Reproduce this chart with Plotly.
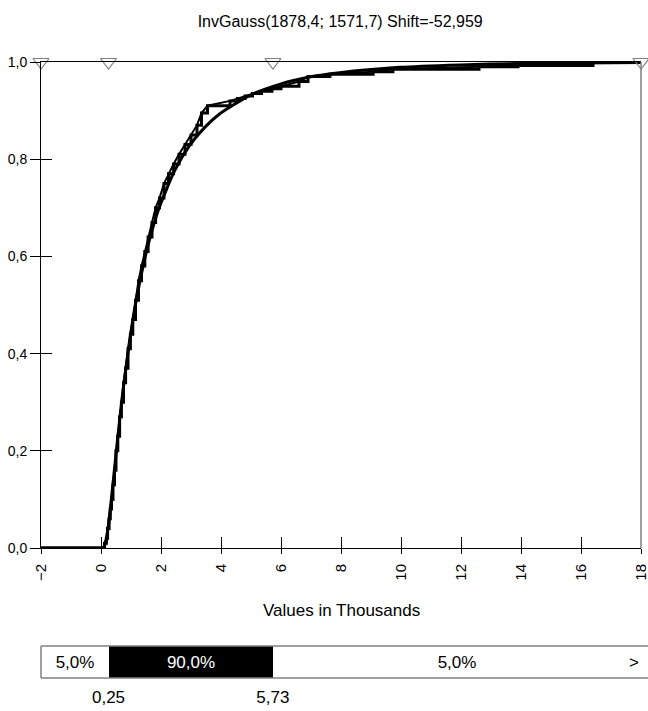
import plotly.graph_objects as go

# Fitted InvGauss cumulative curve (values in thousands)
fit_x = [-2.0, -0.05, 0.05, 0.10, 0.15, 0.25, 0.35, 0.45, 0.55, 0.65, 0.75, 0.95,
         1.20, 1.45, 1.70, 1.95, 2.45, 2.95, 3.45, 3.95, 4.95, 5.95, 6.95, 7.95,
         9.95, 11.95, 13.95, 15.95, 18.0]
fit_p = [0.0, 0.0, 0.0002, 0.003, 0.011, 0.048, 0.103, 0.163, 0.223, 0.279, 0.332, 0.425,
         0.519, 0.593, 0.653, 0.702, 0.776, 0.828, 0.865, 0.893, 0.931, 0.954, 0.969, 0.978,
         0.989, 0.994, 0.997, 0.998, 0.999]

# Empirical cumulative data
emp_x = [-2.0, 0.10, 0.12, 0.18, 0.22, 0.27, 0.31, 0.35, 0.40, 0.45, 0.50, 0.56, 0.62, 0.68,
         0.75, 0.82, 0.90, 0.98, 1.06, 1.15, 1.25, 1.35, 1.46, 1.57, 1.70, 1.82,
         1.95, 2.10, 2.25, 2.42, 2.60, 2.80, 3.00, 3.20, 3.35, 3.55, 4.30, 4.55,
         4.80, 5.05, 5.35, 5.70, 6.00, 6.60, 6.90, 7.63, 9.07, 9.73, 12.6, 13.9,
         16.4, 18.0]
emp_p = [0.0, 0.0, 0.01, 0.02, 0.04, 0.06, 0.08, 0.10, 0.13, 0.16, 0.20, 0.23, 0.27, 0.30,
         0.34, 0.37, 0.41, 0.44, 0.47, 0.51, 0.55, 0.58, 0.61, 0.64, 0.67, 0.70,
         0.72, 0.75, 0.77, 0.79, 0.81, 0.83, 0.85, 0.87, 0.895, 0.91, 0.92, 0.925,
         0.93, 0.935, 0.94, 0.945, 0.95, 0.96, 0.97, 0.975, 0.98, 0.985, 0.99, 0.993,
         1.0, 1.0]

# Delimiter markers along the top edge
marker_x = [-2.0, 0.25, 5.73, 18.0]

# Probability bands for the delimiter bar
band_edges = [-2.0, 0.25, 5.73, 18.0]
band_pct = [5.0, 90.0, 5.0]
band_fill = ["white", "black", "white"]
band_text_color = ["black", "white", "black"]
edge_labels = ["0,25", "5,73"]

x_ticks = list(range(-2, 19, 2))
y_ticks = [0.0, 0.2, 0.4, 0.6, 0.8, 1.0]

FONT = "Liberation Sans, Arial, sans-serif"
GRAY = "#808080"
X_RANGE = [-2.0001, 18.0001]

fig = go.Figure()

fig.add_trace(go.Scatter(x=emp_x, y=emp_p, mode="lines", line=dict(color="black", width=3, shape="hv"),
                         hoverinfo="skip"))
fig.add_trace(go.Scatter(x=emp_x, y=emp_p, mode="lines", line=dict(color="black", width=2),
                         hoverinfo="skip"))
fig.add_trace(go.Scatter(x=fit_x, y=fit_p, mode="lines",
                         line=dict(color="black", width=3, shape="spline", smoothing=0.6),
                         hoverinfo="skip"))

# Open triangles on the secondary pair of axes (carries the inner tick marks)
fig.add_trace(go.Scatter(x=marker_x, y=[1.0] * len(marker_x), mode="markers",
                         marker=dict(symbol="triangle-down-open", size=14, color=GRAY,
                                     line=dict(width=1.2, color=GRAY)),
                         xaxis="x2", yaxis="y2", cliponaxis=False, hoverinfo="skip"))

# Delimiter bar
widths = [band_edges[i + 1] - band_edges[i] for i in range(len(band_pct))]
fig.add_trace(go.Bar(
    y=["b"] * len(band_pct), x=widths, base=band_edges[:-1], orientation="h",
    marker=dict(color=band_fill, line=dict(width=0)),
    text=[f"{p:.1f}%".replace(".", ",") for p in band_pct],
    textposition="inside", insidetextanchor="middle",
    textfont=dict(family=FONT, size=17, color=band_text_color),
    constraintext="none", width=1.0,
    xaxis="x3", yaxis="y3", hoverinfo="skip"))

main_dom = [130 / 616, 1.0]
bar_dom = [0.0, 32 / 616]

fig.update_layout(
    width=648, height=711,
    margin=dict(l=41, r=7, t=62, b=33, autoexpand=False),
    paper_bgcolor="white", plot_bgcolor="white",
    showlegend=False,
    separators=", ",
    font=dict(family=FONT, size=14, color="black"),
    title=dict(text="InvGauss(1878,4; 1571,7) Shift=-52,959", x=0.525, xanchor="center",
               y=1 - 21 / 711, yanchor="middle", font=dict(family=FONT, size=16, color="black")),
    xaxis=dict(range=X_RANGE, domain=[0, 1], anchor="y", tickvals=x_ticks, tickangle=-90,
               ticks="inside", ticklen=11, tickcolor="black", tickwidth=1,
               ticklabelstandoff=9, ticklabeloverflow="allow", automargin=False,
               showline=True, linecolor="black", linewidth=1, mirror=True,
               showgrid=False, zeroline=False, tickfont=dict(size=15)),
    yaxis=dict(range=[0, 1], domain=main_dom, anchor="x", tickvals=y_ticks, tickformat=".1f",
               ticks="outside", ticklen=10, tickcolor="black", tickwidth=1, automargin=False,
               showline=True, linecolor="black", linewidth=1,
               showgrid=False, zeroline=False, tickfont=dict(size=14)),
    xaxis2=dict(range=X_RANGE, overlaying="x", anchor="y2", side="bottom", tickvals=x_ticks,
                ticks="outside", ticklen=5, tickcolor="black", showticklabels=False,
                showline=False, showgrid=False, zeroline=False),
    yaxis2=dict(range=[0, 1], overlaying="y", anchor="x2", side="left", tickvals=y_ticks,
                ticks="inside", ticklen=11, tickcolor="black", showticklabels=False,
                showline=False, showgrid=False, zeroline=False),
    xaxis3=dict(range=X_RANGE, domain=[0, 1], anchor="y3", tickvals=band_edges[1:-1],
                ticktext=edge_labels, ticks="", showline=False, showgrid=False, zeroline=False,
                ticklabelstandoff=7, automargin=False, tickfont=dict(size=17)),
    yaxis3=dict(range=[-0.5, 0.5], domain=bar_dom, anchor="x3", visible=False),
    bargap=0,
)

fig.add_annotation(text="Values in Thousands", xref="paper", yref="paper",
                   x=0.5, y=(678 - 610) / 616, xanchor="center", yanchor="middle",
                   showarrow=False, font=dict(family=FONT, size=17, color="black"))
fig.add_annotation(text=">", xref="x3", yref="y3", x=18, y=0, xanchor="right", yanchor="middle",
                   showarrow=False, font=dict(family=FONT, size=17, color="black"))

# Frame pieces: gray right edge, gray borders around the delimiter bar
fig.add_shape(type="line", xref="x domain", yref="y domain", x0=1, x1=1, y0=0, y1=1,
              line=dict(color=GRAY, width=1.5))
fig.add_shape(type="line", xref="paper", yref="y3 domain", x0=0, x1=607 / 600, y0=1, y1=1,
              line=dict(color=GRAY, width=1.5))
fig.add_shape(type="line", xref="paper", yref="y3 domain", x0=0, x1=607 / 600, y0=0, y1=0,
              line=dict(color=GRAY, width=1.5))
fig.add_shape(type="line", xref="paper", yref="y3 domain", x0=0, x1=0, y0=0, y1=1,
              line=dict(color=GRAY, width=1.5))

fig.write_html("out.html")
